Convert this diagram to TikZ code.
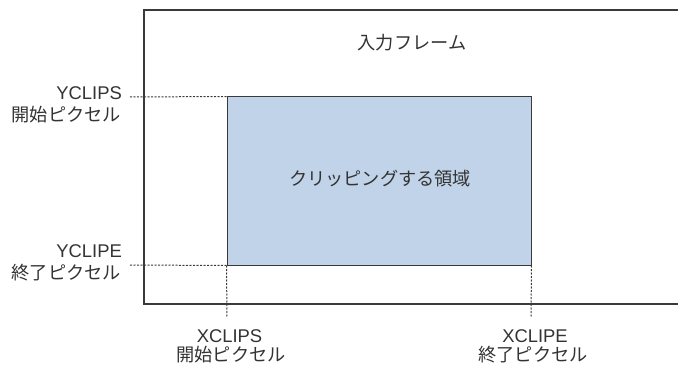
\documentclass[tikz,border=0pt]{standalone}
\usepackage{fontspec}
\setmainfont{Liberation Sans}
\newfontfamily\jp{Noto Sans CJK JP}
\definecolor{linec}{HTML}{3A3A3A}
\definecolor{txtc}{HTML}{333333}
\definecolor{regfill}{HTML}{C1D3E8}
\begin{document}
\begin{tikzpicture}[x=1pt,y=1pt,
  lbl/.style={inner sep=0pt, text=txtc, font=\fontsize{18.4}{22}\selectfont},
  jlbl/.style={inner sep=0pt, text=txtc, font=\fontsize{18.2}{22}\selectfont\jp},
  framebox/.style={draw=linec, line width=1.1pt, minimum width=546pt, minimum height=294pt, inner sep=0pt},
  regionbox/.style={draw=linec, line width=1pt, fill=regfill, minimum width=304pt, minimum height=168pt, inner sep=0pt},
  guide/.style={draw=linec, line width=1pt, dash pattern=on 2pt off 1.5pt}]
\useasboundingbox (0,0) rectangle (678,365);
\fill[white] (0,0) rectangle (678,365);
\node[framebox] (frame) at (417,208) {};
\node[jlbl] (title) at (412,322.5) {入力フレーム};
\node[regionbox] (clip) at (379,184) {};
\node[jlbl] (cliptxt) at (380,186) {クリッピングする領域};
% guide end points
\coordinate (ys) at (130,268);
\coordinate (ye) at (130,100);
\coordinate (xs) at (227,48);
\coordinate (xe) at (531,48);
\draw[guide] (ys) -- (clip.north west);
\draw[guide] (ye) -- (clip.south west);
\draw[guide] (clip.south west) -- (xs);
\draw[guide] (clip.south east) -- (xe);
% labels
\node[lbl, anchor=east] (yclips) at (122,271.5) {YCLIPS};
\node[jlbl, anchor=east] (yclipsj) at (121,250) {開始ピクセル};
\node[lbl, anchor=east] (yclipe) at (122,113.5) {YCLIPE};
\node[jlbl, anchor=east] (yclipej) at (121,92) {終了ピクセル};
\node[lbl] (xclips) at (229.5,29) {XCLIPS};
\node[jlbl] (xclipsj) at (231,10) {開始ピクセル};
\node[lbl] (xclipe) at (535,28.5) {XCLIPE};
\node[jlbl] (xclipej) at (533,10) {終了ピクセル};
\end{tikzpicture}
\end{document}
